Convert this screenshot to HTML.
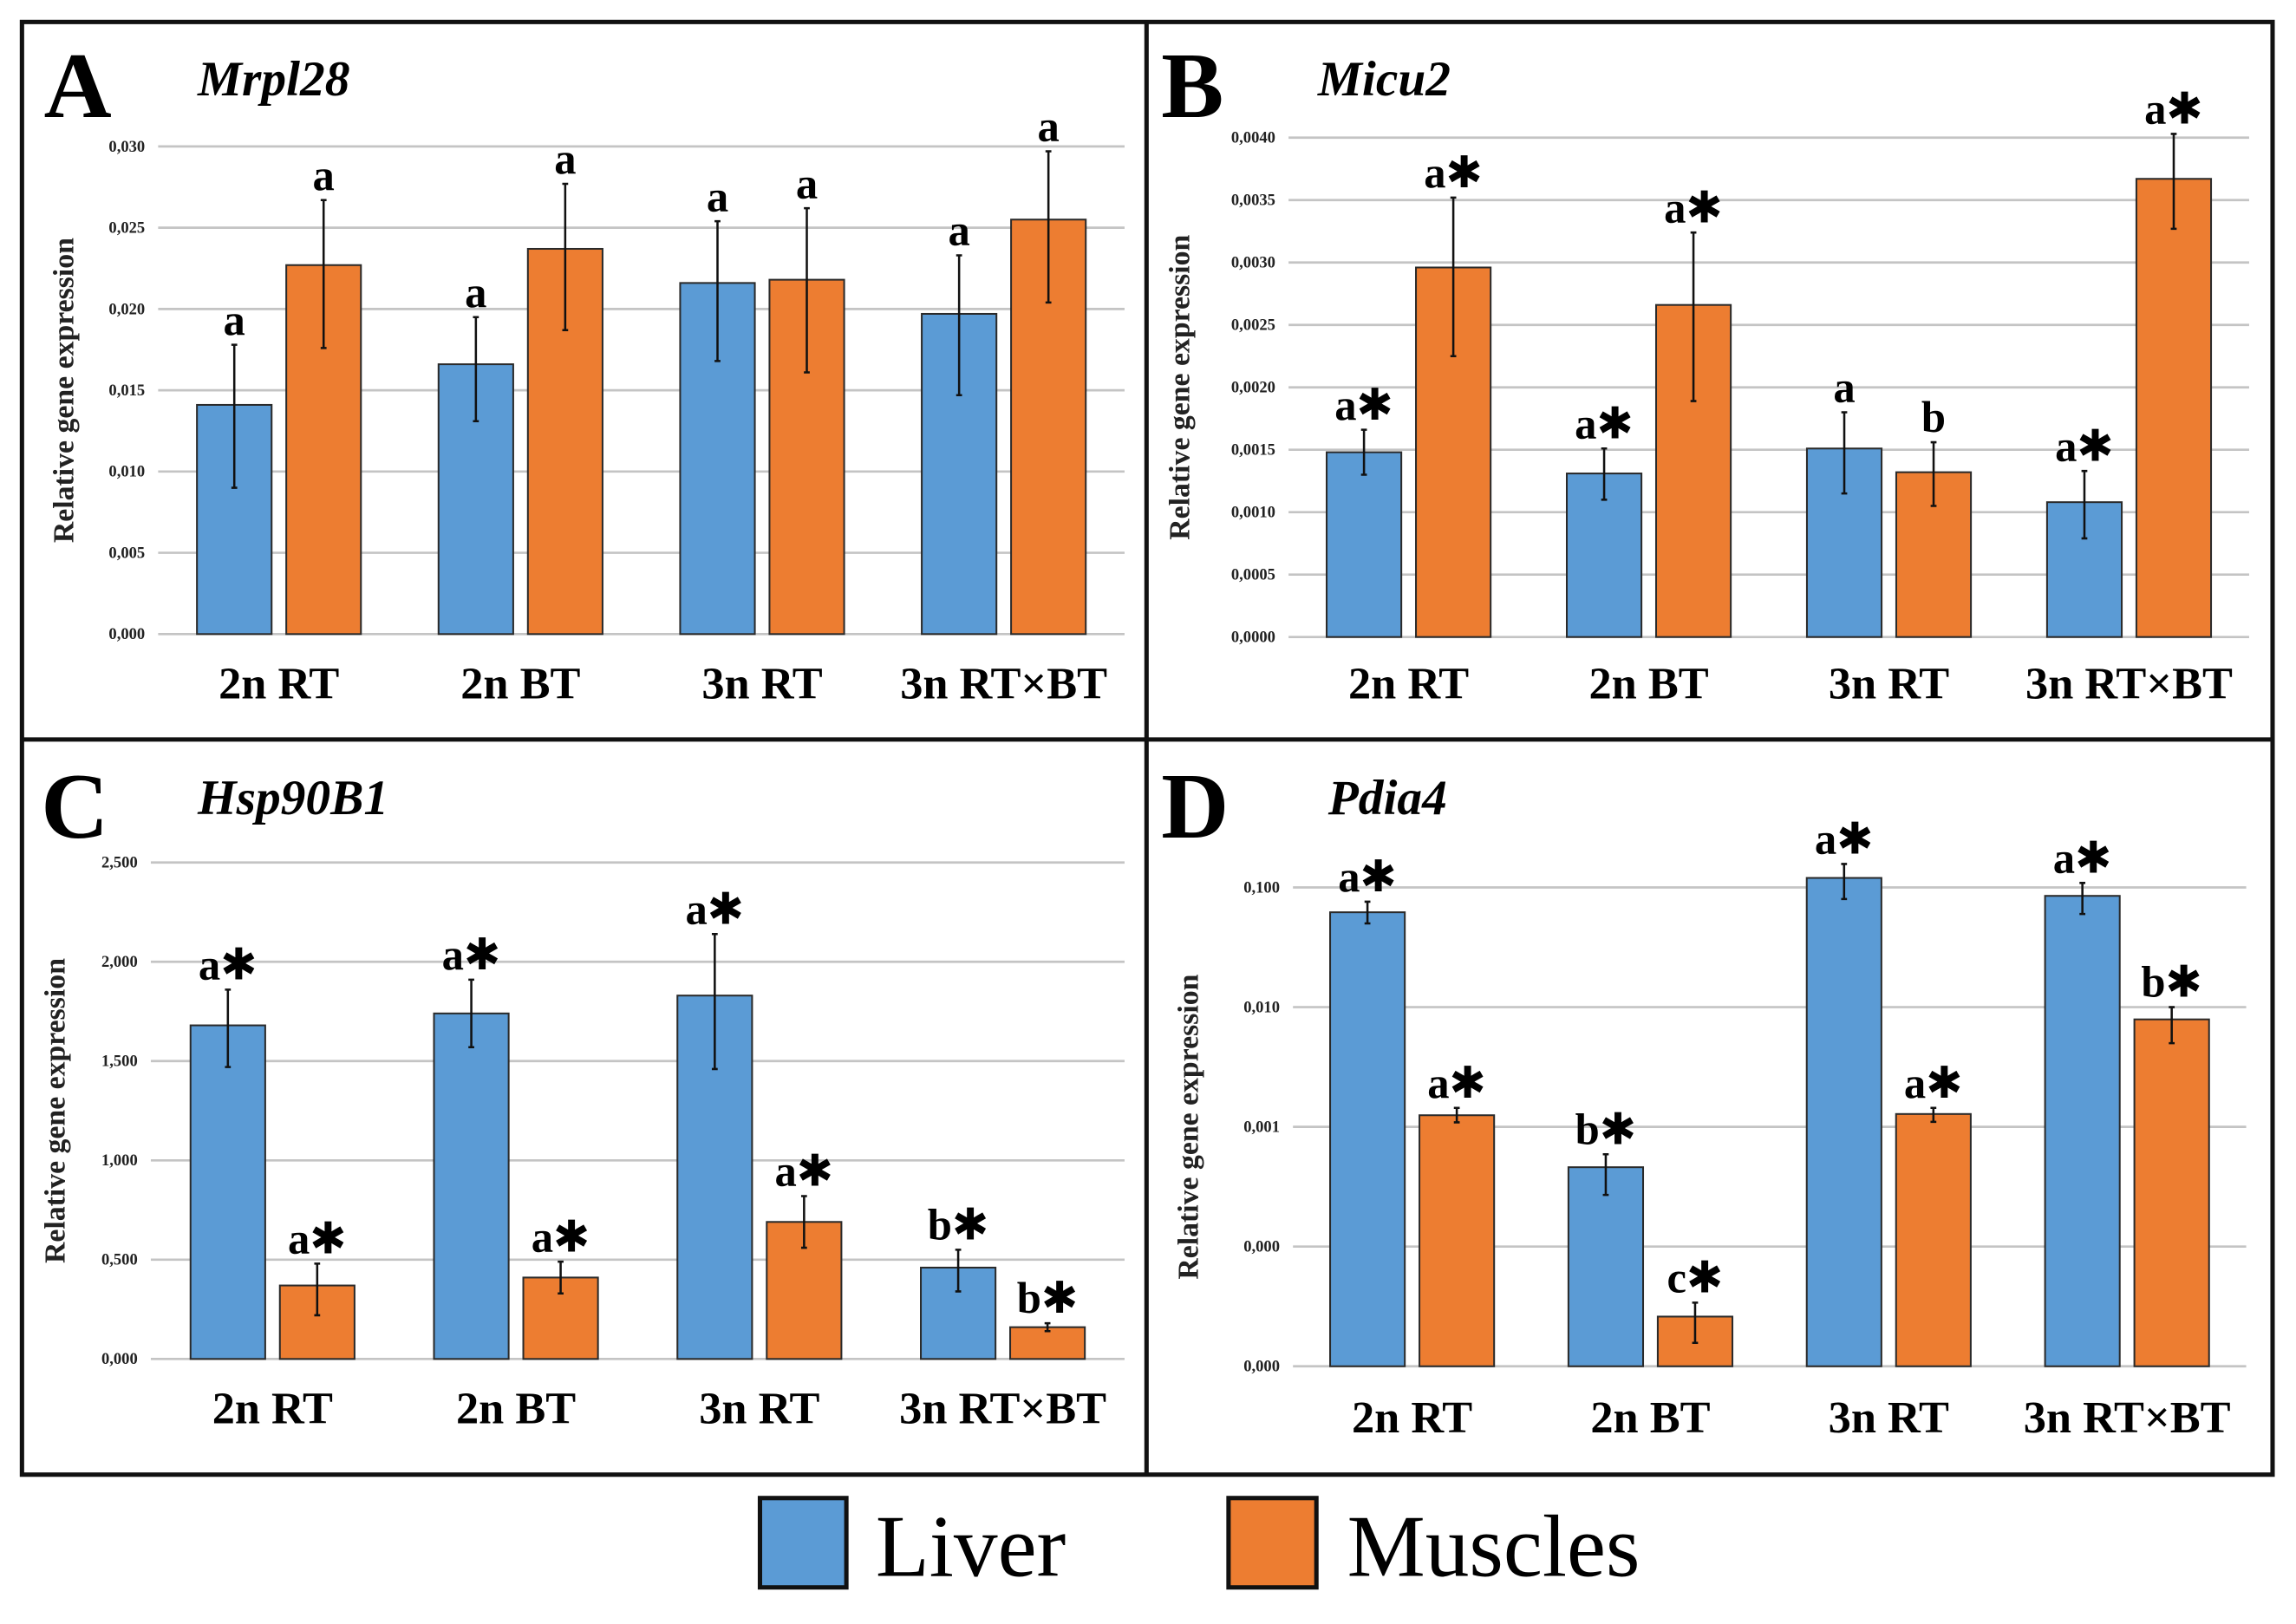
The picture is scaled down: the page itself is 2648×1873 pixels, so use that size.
<!DOCTYPE html>
<html><head><meta charset="utf-8"><style>
html,body{margin:0;padding:0;background:#fff;}
svg{display:block;}
text{font-family:"Liberation Serif",serif;}
</style></head><body>
<svg id="fig" width="2648" height="1873" viewBox="0 0 1568 1109" preserveAspectRatio="none" xmlns="http://www.w3.org/2000/svg">
<rect x="0" y="0" width="1568" height="1109" fill="#fff"/>
<g id="panels"></g>
<g fill="none" stroke="#111" stroke-width="3">
<rect x="15" y="15" width="1537" height="992"/>
<line x1="783" y1="15" x2="783" y2="1007"/>
<line x1="15" y1="505" x2="1552" y2="505"/>
</g>
<g>
<rect x="519" y="1023" width="59" height="61" fill="#5b9bd5" stroke="#111" stroke-width="3"/>
<text x="598" y="1076" font-size="60">Liver</text>
<rect x="839" y="1023" width="60" height="61" fill="#ed7d31" stroke="#111" stroke-width="3"/>
<text x="920" y="1076" font-size="60">Muscles</text>
</g>
</svg>
<script>
const categories = ["2n RT","2n BT","3n RT","3n RT×BT"];

// Panel A: Mrpl28
const aLiver = [0.0141,0.0166,0.0216,0.0197];
const aLiverHi = [0.0178,0.0195,0.0254,0.0233];
const aLiverLo = [0.0090,0.0131,0.0168,0.0147];
const aMuscle = [0.0227,0.0237,0.0218,0.0255];
const aMuscleHi = [0.0267,0.0277,0.0262,0.0297];
const aMuscleLo = [0.0176,0.0187,0.0161,0.0204];
const aLiverLbl = ["a","a","a","a"];
const aMuscleLbl = ["a","a","a","a"];
const aTicks = [0,0.005,0.010,0.015,0.020,0.025,0.030];
const aTickLabels = ["0,000","0,005","0,010","0,015","0,020","0,025","0,030"];

// Panel B: Micu2
const bLiver = [0.00148,0.00131,0.00151,0.00108];
const bLiverHi = [0.00166,0.00151,0.00180,0.00133];
const bLiverLo = [0.00130,0.00110,0.00115,0.00079];
const bMuscle = [0.00296,0.00266,0.00132,0.00367];
const bMuscleHi = [0.00352,0.00324,0.00156,0.00403];
const bMuscleLo = [0.00225,0.00189,0.00105,0.00327];
const bLiverLbl = ["a*","a*","a","a*"];
const bMuscleLbl = ["a*","a*","b","a*"];
const bTicks = [0,0.0005,0.0010,0.0015,0.0020,0.0025,0.0030,0.0035,0.0040];
const bTickLabels = ["0,0000","0,0005","0,0010","0,0015","0,0020","0,0025","0,0030","0,0035","0,0040"];

// Panel C: Hsp90B1
const cLiver = [1.68,1.74,1.83,0.46];
const cLiverHi = [1.86,1.91,2.14,0.55];
const cLiverLo = [1.47,1.57,1.46,0.34];
const cMuscle = [0.37,0.41,0.69,0.16];
const cMuscleHi = [0.48,0.49,0.82,0.18];
const cMuscleLo = [0.22,0.33,0.56,0.14];
const cLiverLbl = ["a*","a*","a*","b*"];
const cMuscleLbl = ["a*","a*","a*","b*"];
const cTicks = [0,0.5,1.0,1.5,2.0,2.5];
const cTickLabels = ["0,000","0,500","1,000","1,500","2,000","2,500"];

// Panel D: Pdia4 (log scale)
const dLiver = [0.062,0.00046,0.12,0.085];
const dLiverHi = [0.076,0.00059,0.157,0.109];
const dLiverLo = [0.050,0.00027,0.080,0.060];
const dMuscle = [0.00125,0.000026,0.00128,0.0079];
const dMuscleHi = [0.00144,0.000034,0.00144,0.0100];
const dMuscleLo = [0.00109,0.0000157,0.00110,0.0050];
const dLiverLbl = ["a*","b*","a*","a*"];
const dMuscleLbl = ["a*","c*","a*","b*"];
const dTicks = [0.00001,0.0001,0.001,0.01,0.1];
const dTickLabels = ["0,000","0,000","0,001","0,010","0,100"];

const NS="http://www.w3.org/2000/svg";
const root=document.getElementById('panels');
function mk(tag,attrs,parent){const e=document.createElementNS(NS,tag);for(const k in attrs)e.setAttribute(k,attrs[k]);(parent||root).appendChild(e);return e;}

function panel(cfg){
  const g=mk('g',{});
  
  
  const y = cfg.log
    ? v => cfg.y0 - (Math.log10(v)-Math.log10(cfg.min))/(Math.log10(cfg.max)-Math.log10(cfg.min))*(cfg.y0-cfg.y1)
    : v => cfg.y0 - (v-cfg.min)/(cfg.max-cfg.min)*(cfg.y0-cfg.y1);
  const step=(cfg.right-cfg.left)/categories.length;
  const x = i => cfg.left + step*(i+0.5);
  const letter=mk('text',{x:cfg.lx,y:cfg.ly,'font-size':64,'font-weight':'bold'},g);
  letter.textContent=cfg.letter;
  
  
  const title=mk('text',{x:cfg.tx,y:cfg.ty,'font-size':34,'font-style':'italic','font-weight':'bold'},g);
  title.textContent=cfg.gene;
  
  
  cfg.ticks.forEach((t,i)=>{
    const yy=y(t);
    const gl=mk('line',{x1:cfg.left,x2:cfg.right,y1:yy,y2:yy,stroke:'#c4c4c4','stroke-width':1.6},g);
    
    
    const tl=mk('text',{x:cfg.left-9,y:yy+3.5,'font-size':11,'font-weight':'bold','text-anchor':'end',fill:'#222'},g);
    tl.textContent=cfg.tickLabels[i];
    
    
  });
  const yt=mk('text',{x:0,y:0,'font-size':20,'font-weight':'bold','text-anchor':'middle',fill:'#222',transform:`translate(${cfg.ytx},${(cfg.y0+cfg.y1)/2}) rotate(-90)`},g);
  yt.textContent='Relative gene expression';
  
  
  const bw=51, gap=5;
  function series(vals,hi,lo,lbls,color,off,nm){
    vals.forEach((v,i)=>{
      const cx=x(i)+off, top=y(v);
      const r=mk('rect',{x:cx-bw/2,y:top,width:bw,height:cfg.y0-top,fill:color,stroke:'#2a2a2a','stroke-width':1.2},g);
      
      
      const yh=y(hi[i]), yl=y(lo[i]);
      const eb=mk('path',{d:`M${cx},${yh}V${yl}M${cx-2},${yh}H${cx+2}M${cx-2},${yl}H${cx+2}`,stroke:'#111','stroke-width':1.5,fill:'none'},g);
      
      
      const star=lbls[i].endsWith('*');
      const t=mk('text',{x:cx,y:yh-7,'font-size':30,'font-weight':'bold','text-anchor':'middle'},g);
      
      
      t.appendChild(document.createTextNode(lbls[i].replace('*','')));
      if(star){const s=mk('tspan',{'font-family':'DejaVu Sans, sans-serif','font-size':30},t);s.textContent='✱';}
    });
  }
  series(cfg.liver,cfg.liverHi,cfg.liverLo,cfg.liverLbl,'#5b9bd5',-(bw/2+gap),'liver');
  series(cfg.muscle,cfg.muscleHi,cfg.muscleLo,cfg.muscleLbl,'#ed7d31',(bw/2+gap),'muscles');
  categories.forEach((c,i)=>{
    const t=mk('text',{x:x(i),y:cfg.cy,'font-size':31,'font-weight':'bold','text-anchor':'middle'},g);
    t.textContent=c;
    
    
  });
}

panel({name:'panel-a-mrpl28',letter:'A',gene:'Mrpl28',lx:30,ly:80,tx:135,ty:65,left:108,right:768,y0:433,y1:100,min:0,max:0.030,log:false,ticks:aTicks,tickLabels:aTickLabels,ytx:50,cy:477,
  liver:aLiver,liverHi:aLiverHi,liverLo:aLiverLo,muscle:aMuscle,muscleHi:aMuscleHi,muscleLo:aMuscleLo,liverLbl:aLiverLbl,muscleLbl:aMuscleLbl});
panel({name:'panel-b-micu2',letter:'B',gene:'Micu2',lx:793,ly:80,tx:900,ty:65,left:880,right:1536,y0:435,y1:94,min:0,max:0.0040,log:false,ticks:bTicks,tickLabels:bTickLabels,ytx:812,cy:477,
  liver:bLiver,liverHi:bLiverHi,liverLo:bLiverLo,muscle:bMuscle,muscleHi:bMuscleHi,muscleLo:bMuscleLo,liverLbl:bLiverLbl,muscleLbl:bMuscleLbl});
panel({name:'panel-c-hsp90b1',letter:'C',gene:'Hsp90B1',lx:28,ly:572,tx:135,ty:556,left:103,right:768,y0:928,y1:589,min:0,max:2.5,log:false,ticks:cTicks,tickLabels:cTickLabels,ytx:44,cy:972,
  liver:cLiver,liverHi:cLiverHi,liverLo:cLiverLo,muscle:cMuscle,muscleHi:cMuscleHi,muscleLo:cMuscleLo,liverLbl:cLiverLbl,muscleLbl:cMuscleLbl});
panel({name:'panel-d-pdia4',letter:'D',gene:'Pdia4',lx:793,ly:572,tx:907,ty:556,left:883,right:1534,y0:933,y1:606,min:0.00001,max:0.1,log:true,ticks:dTicks,tickLabels:dTickLabels,ytx:818,cy:978,
  liver:dLiver,liverHi:dLiverHi,liverLo:dLiverLo,muscle:dMuscle,muscleHi:dMuscleHi,muscleLo:dMuscleLo,liverLbl:dLiverLbl,muscleLbl:dMuscleLbl});
</script>
</body></html>
